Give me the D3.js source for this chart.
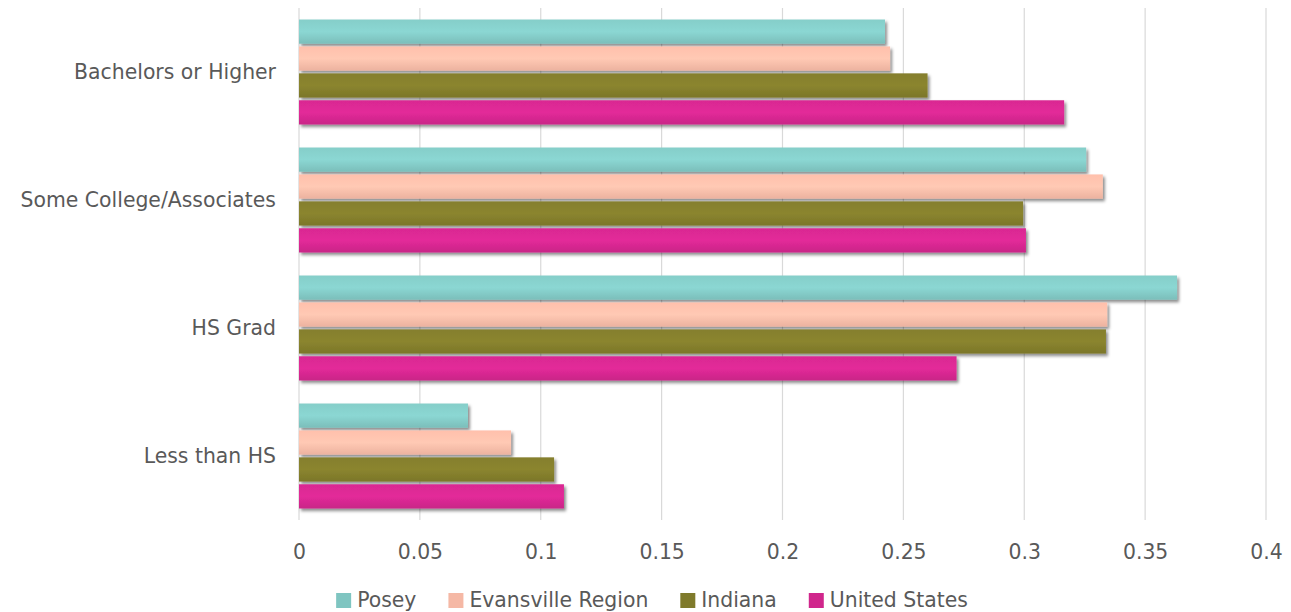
<!DOCTYPE html>
<html>
<head>
<meta charset="utf-8">
<script src="https://cdn.jsdelivr.net/npm/d3@7"></script>
<style>
  html, body { margin: 0; padding: 0; background: #fff; }
  svg { display: block; font-family: "DejaVu Sans", "Noto Sans", sans-serif; }
</style>
</head>
<body>
<svg id="chart" width="1291" height="612"></svg>
<script>
// Educational attainment shares by region
const categories = ["Bachelors or Higher", "Some College/Associates", "HS Grad", "Less than HS"];
const seriesNames = ["Posey", "Evansville Region", "Indiana", "United States"];
const seriesColors = ["#7fc5c1", "#f5b8a5", "#7f7a2b", "#d0268c"];
const posey       = [0.2424, 0.3256, 0.3632, 0.0699];
const evansville  = [0.2445, 0.3325, 0.3343, 0.0877];
const indiana     = [0.2600, 0.2995, 0.3338, 0.1055];
const unitedStates= [0.3165, 0.3007, 0.2720, 0.1096];
const xTicks = [0, 0.05, 0.1, 0.15, 0.2, 0.25, 0.3, 0.35, 0.4];

const seriesValues = [posey, evansville, indiana, unitedStates];

const svg = d3.select("#chart");
const margin = { left: 299, right: 25, top: 8, bottom: 92 };
const W = 1291, H = 612;
const textColor = "#595959";
const fontSize = 20.4;

const x = d3.scaleLinear().domain([0, 0.4]).range([margin.left, W - margin.right]);
const y0 = d3.scaleBand().domain(categories).range([margin.top, H - margin.bottom]).paddingInner(0.18).paddingOuter(0.09);
const y1 = d3.scaleBand().domain(seriesNames).range([0, y0.bandwidth()]).paddingInner(0.1);

const defs = svg.append("defs");
const shadow = defs.append("filter").attr("id", "barShadow")
  .attr("x", "-5%").attr("y", "-30%").attr("width", "110%").attr("height", "170%");
shadow.append("feDropShadow").attr("dx", 2).attr("dy", 2.5).attr("stdDeviation", 1.6)
  .attr("flood-color", "#000").attr("flood-opacity", 0.45);

seriesColors.forEach((c, i) => {
  const g = defs.append("linearGradient").attr("id", "grad" + i)
    .attr("x1", 0).attr("y1", 0).attr("x2", 0).attr("y2", 1);
  const base = d3.color(c);
  g.append("stop").attr("offset", "0%").attr("stop-color", base.brighter(0.12));
  g.append("stop").attr("offset", "50%").attr("stop-color", base.brighter(0.25));
  g.append("stop").attr("offset", "100%").attr("stop-color", base.darker(0.1));
});

// Vertical gridlines
svg.append("g")
  .selectAll("line")
  .data(xTicks)
  .join("line")
  .attr("x1", d => x(d)).attr("x2", d => x(d))
  .attr("y1", margin.top).attr("y2", H - margin.bottom)
  .attr("stroke", "#d9d9d9").attr("stroke-width", 1.2);

// Bars
const groups = svg.append("g").selectAll("g")
  .data(categories)
  .join("g")
  .attr("transform", d => `translate(0,${y0(d)})`);

groups.selectAll("rect")
  .data((cat, ci) => seriesNames.map((s, si) => ({ s, si, v: seriesValues[si][ci] })))
  .join("rect")
  .attr("x", x(0))
  .attr("y", d => y1(d.s))
  .attr("width", d => x(d.v) - x(0))
  .attr("height", y1.bandwidth())
  .attr("fill", d => `url(#grad${d.si})`)
  .attr("filter", "url(#barShadow)");

// Category labels
const yAxis = d3.axisLeft(y0).tickSize(0).tickPadding(23);
const yg = svg.append("g").attr("transform", `translate(${margin.left},0)`).call(yAxis);
yg.select(".domain").remove();
yg.selectAll("text").attr("font-size", fontSize).attr("fill", textColor)
  .attr("font-family", "\"DejaVu Sans\", sans-serif");

// Value axis labels
const xAxis = d3.axisBottom(x).tickValues(xTicks).tickSize(0).tickPadding(25)
  .tickFormat(d => d === 0 ? "0" : String(+d.toFixed(2)));
const xg = svg.append("g").attr("transform", `translate(0,${H - margin.bottom})`).call(xAxis);
xg.select(".domain").remove();
xg.selectAll("text").attr("font-size", fontSize).attr("fill", textColor)
  .attr("font-family", "\"DejaVu Sans\", sans-serif");

// Legend, laid out from measured text widths and centred
const sw = 15, textGap = 6, itemGap = 32, legendCenter = 652, legendY = 593;
const legend = svg.append("g");
const items = legend.selectAll("g")
  .data(seriesNames)
  .join("g");
items.append("rect").attr("width", sw).attr("height", sw)
  .attr("fill", (d, i) => seriesColors[i]);
items.append("text").attr("x", sw + textGap).attr("y", 14)
  .attr("font-size", fontSize).attr("fill", textColor)
  .text(d => d);
let cursor = 0;
const offsets = [];
items.each(function () {
  const w = d3.select(this).select("text").node().getComputedTextLength();
  offsets.push(cursor);
  cursor += sw + textGap + w + itemGap;
});
const total = cursor - itemGap;
const startX = legendCenter - total / 2;
items.attr("transform", (d, i) => `translate(${startX + offsets[i]},${legendY})`);
</script>
</body>
</html>
